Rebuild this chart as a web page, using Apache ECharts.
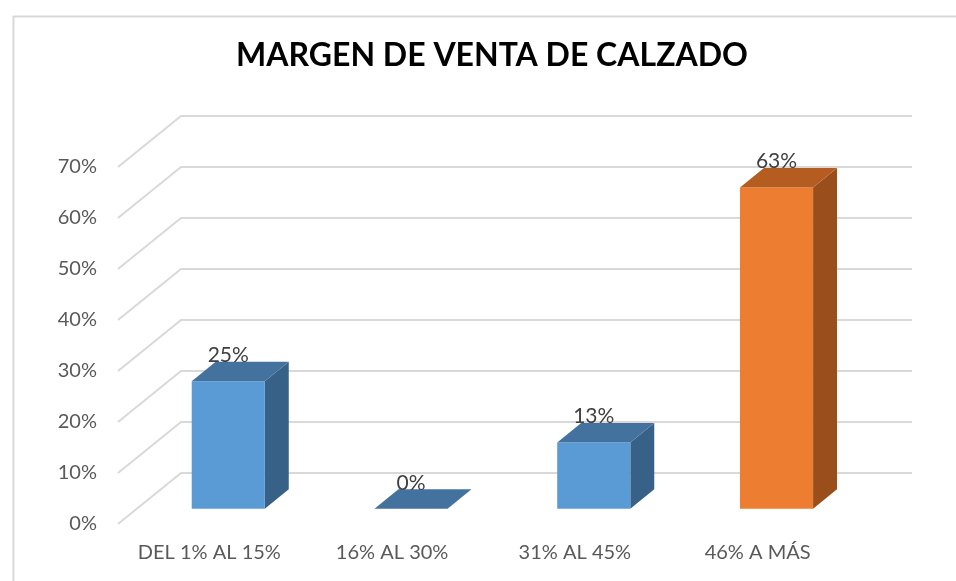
<!DOCTYPE html>
<html>
<head>
<meta charset="utf-8">
<script src="https://cdn.jsdelivr.net/npm/echarts@6/dist/echarts.min.js"></script>
<style>
  html, body { margin: 0; padding: 0; background: #fff; }
  #chart { width: 956px; height: 581px; }
</style>
</head>
<body>
<div id="chart"></div>
<script>
// datos
const categories = ['DEL 1% AL 15%', '16% AL 30%', '31% AL 45%', '46% A MÁS'];
const values = [25, 0, 13, 63];
const tickValues = [0, 10, 20, 30, 40, 50, 60, 70];

// profundidad "3D" (pseudo perspectiva tipo Excel)
const DX = 63, DY = -51;
const FRONT = 0.3, BACK = 0.68;
const FONT = 'Lato';

// colores: frente, tapa, lateral
const blue = ['#5b9bd5', '#44729f', '#386188'];
const orange = ['#ed7d31', '#b55d21', '#9a4e1c'];
const highlight = 3;

const chart = echarts.init(document.getElementById('chart'));

function renderGrid (params, api) {
  const cs = params.coordSys;
  const y = api.coord([0, api.value(1)])[1];
  return {
    type: 'polyline',
    shape: {
      points: [[cs.x, y], [cs.x + DX, y + DY], [cs.x + cs.width + DX, y + DY]]
    },
    style: { stroke: '#d9d9d9', lineWidth: 2, fill: null }
  };
}

function renderBar (params, api) {
  const idx = api.value(0);
  const v = api.value(1);
  const base = api.coord([idx, 0]);
  const top = api.coord([idx, v]);
  const w = api.size([1, 0])[0] * 0.4;
  const fx = base[0] - w / 2 + DX * FRONT;
  const fy0 = base[1] + DY * FRONT;
  const fy1 = top[1] + DY * FRONT;
  const ddx = DX * (BACK - FRONT);
  const ddy = DY * (BACK - FRONT);
  const c = idx === highlight ? orange : blue;
  const children = [];
  if (fy0 - fy1 > 0.5) {
    children.push({
      type: 'polygon',
      shape: { points: [[fx + w, fy0], [fx + w + ddx, fy0 + ddy], [fx + w + ddx, fy1 + ddy], [fx + w, fy1]] },
      style: { fill: c[2] }
    });
    children.push({
      type: 'rect',
      shape: { x: fx, y: fy1, width: w, height: fy0 - fy1 },
      style: { fill: c[0] }
    });
  }
  children.push({
    type: 'polygon',
    shape: { points: [[fx, fy1], [fx + w, fy1], [fx + w + ddx, fy1 + ddy], [fx + ddx, fy1 + ddy]] },
    style: { fill: c[1] }
  });
  children.push({
    type: 'text',
    style: {
      x: fx + w / 2,
      y: fy1 + ddy + 4,
      text: v + '%',
      fill: '#404040',
      font: '21px ' + FONT,
      align: 'center',
      verticalAlign: 'bottom'
    }
  });
  return { type: 'group', children: children };
}

chart.setOption({
  backgroundColor: '#fff',
  animation: false,
  title: {
    text: 'MARGEN DE VENTA DE CALZADO',
    left: 487,
    textAlign: 'center',
    top: 35,
    textStyle: { fontFamily: FONT, fontWeight: 'bold', fontSize: 32, color: '#000' }
  },
  graphic: [{
    type: 'rect',
    left: 11,
    top: 14,
    shape: { width: 1000, height: 600 },
    style: { fill: null, stroke: '#d9d9d9', lineWidth: 2 },
    silent: true
  }],
  grid: { left: 118, right: 107, top: 167, bottom: 57 },
  xAxis: {
    type: 'category',
    data: categories,
    axisLine: { show: false },
    axisTick: { show: false },
    axisLabel: { interval: 0, hideOverlap: false, margin: 19, color: '#595959', fontFamily: FONT, fontSize: 20 }
  },
  yAxis: {
    type: 'value',
    min: 0,
    max: 70,
    interval: 10,
    axisLine: { show: false },
    axisTick: { show: false },
    splitLine: { show: false },
    axisLabel: { margin: 21, formatter: '{value}%', color: '#595959', fontFamily: FONT, fontSize: 20 }
  },
  series: [
    {
      type: 'custom',
      renderItem: renderGrid,
      data: tickValues.map(function (t) { return [0, t]; }),
      encode: { x: 0, y: 1 },
      silent: true,
      z: 1
    },
    {
      type: 'custom',
      renderItem: renderBar,
      data: values.map(function (v, i) { return [i, v]; }),
      encode: { x: 0, y: 1 },
      z: 2
    }
  ]
});
</script>
</body>
</html>
